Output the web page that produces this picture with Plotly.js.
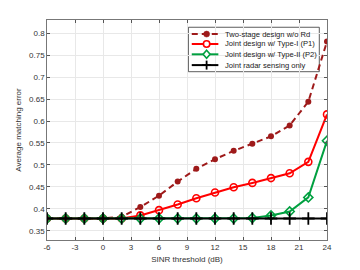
<!DOCTYPE html>
<html><head><meta charset="utf-8">
<script src="https://cdn.plot.ly/plotly-3.0.1.min.js"></script>
<style>html,body{margin:0;padding:0;background:#fff}#c{width:360px;height:270px}</style>
</head><body><div id="c"></div>
<script>
const sinr = [-6,-4,-2,0,2,4,6,8,10,12,14,16,18,20,22,24];
const twoStage = [0.378,0.378,0.378,0.378,0.382,0.404,0.430,0.462,0.491,0.513,0.532,0.548,0.565,0.590,0.644,0.781];
const jointP1 = [0.378,0.378,0.378,0.378,0.378,0.385,0.397,0.410,0.424,0.437,0.449,0.459,0.470,0.481,0.507,0.615];
const jointP2 = [0.378,0.378,0.378,0.378,0.378,0.378,0.378,0.378,0.378,0.378,0.378,0.379,0.385,0.394,0.426,0.555];
const radarOnly = [0.378,0.378,0.378,0.378,0.378,0.378,0.378,0.378,0.378,0.378,0.378,0.378,0.378,0.378,0.378,0.378];
const names = ['Two-stage design w/o Rd','Joint design w/ Type-I (P1)','Joint design w/ Type-II (P2)','Joint radar sensing only'];
const xTicks = [-6,-3,0,3,6,9,12,15,18,21,24];
const yTicks = [0.35,0.4,0.45,0.5,0.55,0.6,0.65,0.7,0.75,0.8];

const C = {dred:'#9E1A1A', red:'#FF0000', green:'#00A040', black:'#000000'};
const traces = [
  {x:sinr,y:twoStage,name:names[0],mode:'lines+markers',line:{color:C.dred,width:2,dash:'6px,4px'},marker:{symbol:'circle',size:6,color:C.dred}},
  {x:sinr,y:jointP1,name:names[1],mode:'lines+markers',line:{color:C.red,width:2},marker:{symbol:'circle-open',size:7,color:C.red,line:{width:1.6}}},
  {x:sinr,y:jointP2,name:names[2],mode:'lines+markers',line:{color:C.green,width:2},marker:{symbol:'diamond-open',size:7,color:C.green,line:{width:1.6}}},
  {x:sinr,y:radarOnly,name:names[3],mode:'lines+markers',line:{color:C.black,width:2},marker:{symbol:'cross-thin-open',size:9,color:C.black,line:{width:1.8}}}
];

// custom compact legend (MATLAB-like)
const lgX0=0.505, lgX1=0.9725, lgY0=0.765, lgY1=0.967;
const rows=[0.936,0.891,0.844,0.795];
const sx0=0.517, sx1=0.612, mx=0.570, tx=0.628;
const shapes=[{type:'rect',xref:'paper',yref:'paper',x0:lgX0,x1:lgX1,y0:lgY0,y1:lgY1,fillcolor:'#fff',line:{color:'#333',width:0.8},layer:'between'}];
const annotations=[];
const cols=[C.dred,C.red,C.green,C.black];
rows.forEach((ry,i)=>{
  shapes.push({type:'line',xref:'paper',yref:'paper',x0:sx0,x1:sx1,y0:ry,y1:ry,line:{color:cols[i],width:2,dash:i===0?'6px,4px':'solid'},layer:'above'});
  const base={xref:'paper',yref:'paper',xsizemode:'pixel',ysizemode:'pixel',xanchor:mx,yanchor:ry,layer:'above'};
  if(i===0) shapes.push(Object.assign({},base,{type:'circle',x0:-3,x1:3,y0:-3,y1:3,fillcolor:cols[i],line:{color:cols[i],width:0.5}}));
  if(i===1) shapes.push(Object.assign({},base,{type:'circle',x0:-3.2,x1:3.2,y0:-3.2,y1:3.2,fillcolor:'#fff',line:{color:cols[i],width:1.6}}));
  if(i===2) shapes.push(Object.assign({},base,{type:'path',path:'M0,4L3.5,0L0,-4L-3.5,0Z',fillcolor:'#fff',line:{color:cols[i],width:1.6}}));
  if(i===3){
    shapes.push(Object.assign({},base,{type:'line',x0:-4.5,x1:4.5,y0:0,y1:0,line:{color:cols[i],width:1.8}}));
    shapes.push(Object.assign({},base,{type:'line',x0:0,x1:0,y0:-4.5,y1:4.5,line:{color:cols[i],width:1.8}}));
  }
  annotations.push({xref:'paper',yref:'paper',x:tx,y:ry,xanchor:'left',yanchor:'middle',showarrow:false,text:names[i],font:{size:7.6,color:'#222',family:'Liberation Sans, Arial'}});
});

const ax = {showline:true,linecolor:'#555',linewidth:0.8,mirror:'ticks',ticks:'inside',ticklen:3,tickcolor:'#555',gridcolor:'#e8e8e8',zeroline:false,tickfont:{size:8,color:'#333',family:'Liberation Sans, Arial'}};
const layout = {
  width:360,height:270,margin:{l:47,r:33,t:20,b:30},
  paper_bgcolor:'#fff',plot_bgcolor:'#fff',
  font:{family:'Liberation Sans, Arial',size:8,color:'#333'},
  xaxis:Object.assign({},ax,{range:[-6,24],tickvals:xTicks,ticktext:xTicks.map(String),title:{text:'SINR threshold (dB)',font:{size:8,color:'#333'},standoff:4}}),
  yaxis:Object.assign({},ax,{range:[0.329,0.83],tickvals:yTicks,ticktext:yTicks.map(v=>String(v)),title:{text:'Average matching error',font:{size:8,color:'#333'},standoff:6}}),
  showlegend:false,
  shapes:shapes, annotations:annotations
};
Plotly.newPlot('c',traces,layout,{displayModeBar:false,staticPlot:true});
</script></body></html>
